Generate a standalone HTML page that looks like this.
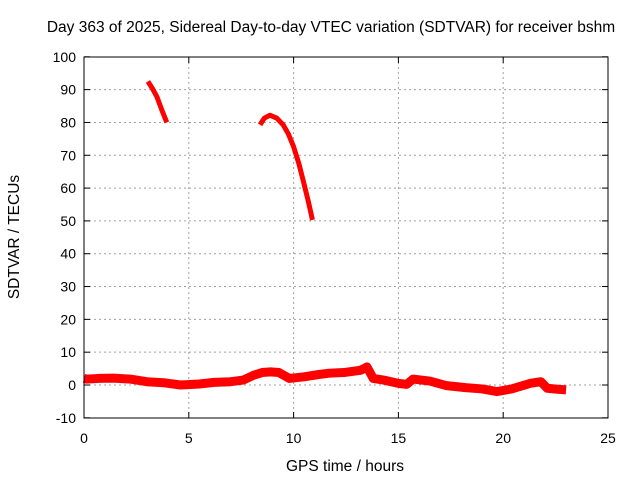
<!DOCTYPE html>
<html><head><meta charset="utf-8"><style>
body{margin:0;background:#fff}
svg text{font-family:"Liberation Sans",sans-serif;font-size:14px;fill:#000}
svg text.big{font-size:15.5px}
</style></head><body>
<svg width="640" height="480" xmlns="http://www.w3.org/2000/svg">
<rect width="640" height="480" fill="#fff"/>
<text class="big" x="331" y="32" text-anchor="middle">Day 363 of 2025, Sidereal Day-to-day VTEC variation (SDTVAR) for receiver bshm</text>
<g id="grid"></g>
<g id="series"></g>
<rect x="84" y="57" width="524" height="361" fill="none" stroke="#000"/>
<g id="ticks"></g>
<text class="big" x="345" y="471" text-anchor="middle">GPS time / hours</text>
<text class="big" transform="translate(19,237) rotate(-90)" text-anchor="middle">SDTVAR / TECUs</text>
</svg>
<script>
const xTicks=[0,5,10,15,20,25];
const yTicks=[-10,0,10,20,30,40,50,60,70,80,90,100];
const seg1Hours=[3.05,3.25,3.48,3.7,3.95];
const seg1Vals=[92.5,90.5,87.8,84,80];
const seg2Hours=[8.4,8.6,8.87,9.2,9.5,9.75,10,10.25,10.45,10.7,10.9];
const seg2Vals=[79.3,81.3,82.2,81.3,79.3,76.5,72.6,67.5,62.5,56,50.3];
const lowHours=[0,0.13,0.7,1.4,2.2,3,3.8,4.6,5.5,6.2,7,7.6,8.1,8.5,8.9,9.3,9.8,10.5,11.2,11.7,12.4,13.2,13.5,13.8,14.3,15,15.4,15.7,16.5,17.3,18.2,19,19.7,20.4,21.3,21.8,22.1,22.6,23];
const lowVals=[2,1.8,2,2.1,1.8,1,0.7,0,0.3,0.8,1,1.5,3,3.8,4,3.8,2,2.5,3.2,3.6,3.8,4.5,5.5,2,1.5,0.5,0.2,1.8,1.2,-0.2,-0.8,-1.2,-2,-1.2,0.5,1,-1,-1.3,-1.5];
const X=h=>84+h*524/25, Y=v=>385-v*3.282;
const NS="http://www.w3.org/2000/svg";
function mk(t,a,p){const e=document.createElementNS(NS,t);for(const k in a)e.setAttribute(k,a[k]);p.appendChild(e);return e;}
const grid=document.getElementById('grid'),ticks=document.getElementById('ticks'),ser=document.getElementById('series');
xTicks.forEach(t=>{
 if(t>0&&t<25){const g=mk('line',{x1:X(t),x2:X(t),y1:57,y2:418,stroke:'#a0a0a0','stroke-dasharray':'2,3'},grid);
 
 }
 mk('line',{x1:X(t),x2:X(t),y1:418,y2:412,stroke:'#000'},ticks);
 mk('line',{x1:X(t),x2:X(t),y1:57,y2:63,stroke:'#000'},ticks);
 const l=mk('text',{x:X(t),y:443,'text-anchor':'middle'},ticks);l.textContent=t;
 
 
});
yTicks.forEach(t=>{
 if(t>-10&&t<100){const g=mk('line',{x1:84,x2:608,y1:Y(t),y2:Y(t),stroke:'#a0a0a0','stroke-dasharray':'2,3'},grid);
 
 }
 mk('line',{x1:84,x2:90,y1:Y(t),y2:Y(t),stroke:'#000'},ticks);
 mk('line',{x1:608,x2:602,y1:Y(t),y2:Y(t),stroke:'#000'},ticks);
 const l=mk('text',{x:76,y:Y(t)+5,'text-anchor':'end'},ticks);l.textContent=t;
 
 
});
function line(hs,vs,w,name){
 const p=mk('polyline',{points:hs.map((h,i)=>X(h)+','+Y(vs[i])).join(' '),fill:'none',stroke:'#f00','stroke-width':w,'stroke-linejoin':'round'},ser);
 
 
}
line(seg1Hours,seg1Vals,5,'series-segment-1');
line(seg2Hours,seg2Vals,5,'series-segment-2');
line(lowHours,lowVals,9,'series-baseline');
</script>
</body></html>
